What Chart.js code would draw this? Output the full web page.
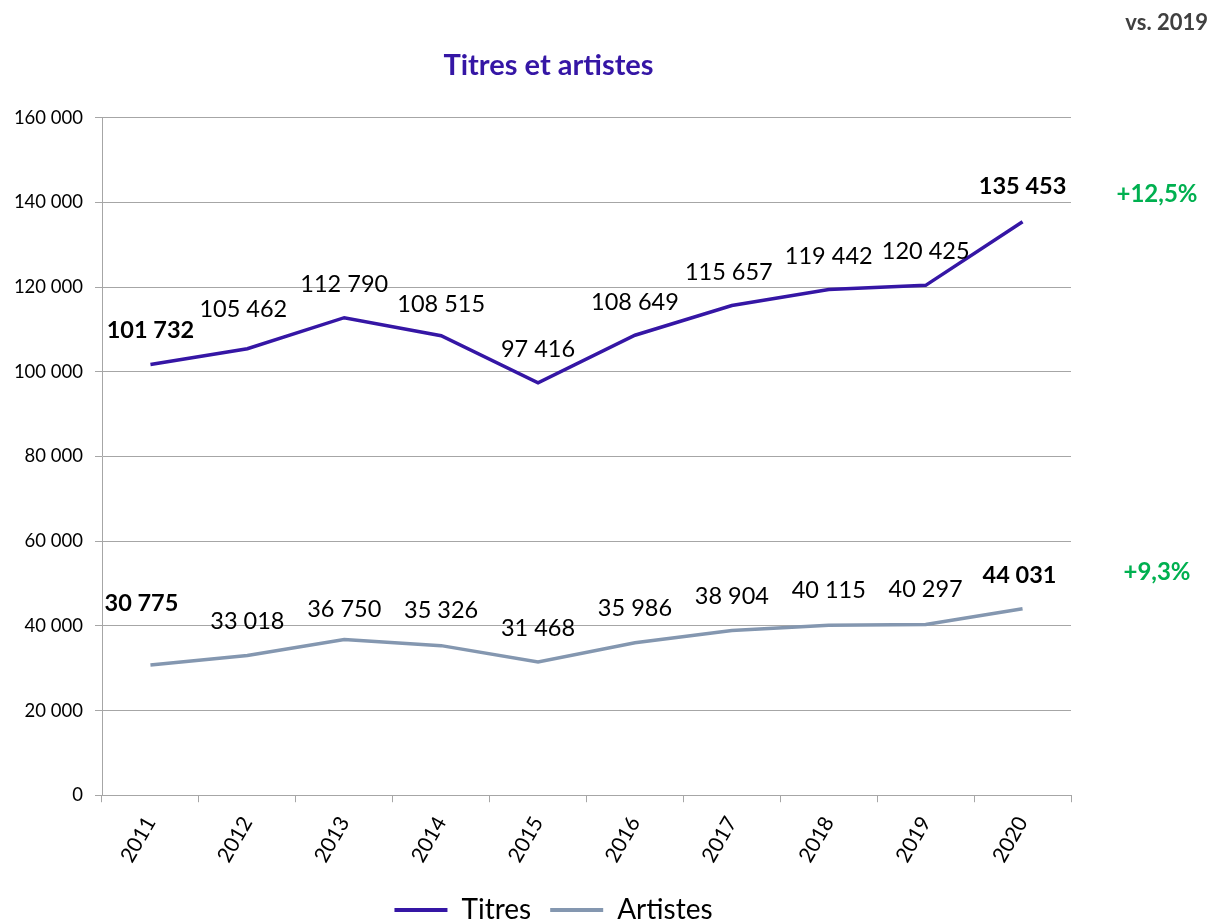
<!DOCTYPE html>
<html>
<head>
<meta charset="utf-8">
<script src="https://cdn.jsdelivr.net/npm/chart.js@4/dist/chart.umd.min.js"></script>
<style>
html,body{margin:0;padding:0;background:#fff;}
#wrap{position:relative;width:1210px;height:922px;}
</style>
</head>
<body>
<div id="wrap"><canvas id="c" width="1210" height="922"></canvas></div>
<script>
const years = ['2011','2012','2013','2014','2015','2016','2017','2018','2019','2020'];
const titres = [101732, 105462, 112790, 108515, 97416, 108649, 115657, 119442, 120425, 135453];
const artistes = [30775, 33018, 36750, 35326, 31468, 35986, 38904, 40115, 40297, 44031];
const seriesNames = ['Titres', 'Artistes'];
const changeLabels = ['+12,5%', '+9,3%'];
const compareLabel = 'vs. 2019';
const chartTitle = 'Titres et artistes';

const FONT = 'Lato, "Open Sans", sans-serif';
const fmt = v => String(v).replace(/\B(?=(\d{3})+(?!\d))/g, ' ');

const labelOffsets = [
  [[0,-34],[-4,-39],[0,-33],[0,-31],[0,-33],[0,-33],[-3,-33],[0,-33],[0,-34],[0,-35]],
  [[-9,-61],[0,-34],[0,-30],[0,-35],[0,-34],[0,-34],[0,-34],[0,-35],[0,-35],[-3,-33]]
];
const changeOffsets = [8, -4];

const extraText = {
  id: 'extraText',
  afterLayout(chart) {
    if (chart.legend) { chart.legend.left += 13; chart.legend.right += 13; }
    if (chart.titleBlock) { chart.titleBlock.left += 8; chart.titleBlock.right += 8; }
  },
  afterDatasetsDraw(chart) {
    const ctx = chart.ctx;
    ctx.save();
    ctx.textBaseline = 'middle';
    ctx.textAlign = 'center';
    chart.data.datasets.forEach((ds, di) => {
      const meta = chart.getDatasetMeta(di);
      meta.data.forEach((pt, i) => {
        const last = i === ds.data.length - 1;
        const bold = i === 0 || last;
        ctx.font = (bold ? 'bold ' : '') + '23.5px ' + FONT;
        ctx.fillStyle = '#000';
        const off = labelOffsets[di][i];
        ctx.fillText(fmt(ds.data[i]), pt.x + off[0], pt.y + off[1]);
        if (last) {
          ctx.font = 'bold 24px ' + FONT;
          ctx.fillStyle = '#00b050';
          ctx.fillText(changeLabels[di], 1157, pt.y + off[1] + changeOffsets[di]);
        }
      });
    });
    ctx.font = 'bold 22px ' + FONT;
    ctx.fillStyle = '#404040';
    ctx.textAlign = 'right';
    ctx.fillText(compareLabel, 1208, 23);
    ctx.restore();
  }
};

new Chart(document.getElementById('c'), {
  type: 'line',
  data: {
    labels: years,
    datasets: [
      { label: seriesNames[0], data: titres, borderColor: '#3516a5', backgroundColor: '#3516a5', borderWidth: 3.5, pointRadius: 0, tension: 0 },
      { label: seriesNames[1], data: artistes, borderColor: '#8497b0', backgroundColor: '#8497b0', borderWidth: 3.5, pointRadius: 0, tension: 0 }
    ]
  },
  options: {
    responsive: false,
    animation: false,
    devicePixelRatio: 1,
    layout: { padding: { left: 10, right: 139, top: 0, bottom: -12 } },
    plugins: {
      title: {
        display: true, text: chartTitle, color: '#3516a5',
        font: { family: FONT, size: 29, weight: 'bold' },
        padding: { top: 48, bottom: 35 }
      },
      legend: {
        position: 'bottom',
        labels: {
          color: '#000', font: { family: FONT, size: 28 },
          boxWidth: 53, boxHeight: 4, padding: 19,
          generateLabels(chart) {
            const items = Chart.defaults.plugins.legend.labels.generateLabels(chart);
            items.forEach(it => { it.lineWidth = 0; it.strokeStyle = it.fillStyle; });
            return items;
          }
        }
      },
      tooltip: { enabled: false }
    },
    scales: {
      x: {
        offset: true,
        grid: { offset: true, drawOnChartArea: false, drawTicks: true, tickLength: 7, color: '#a6a6a6' },
        border: { display: true, color: '#a6a6a6' },
        ticks: { color: '#000', font: { family: FONT, size: 21 }, minRotation: 60, maxRotation: 60, padding: 10 }
      },
      y: {
        min: 0, max: 160000,
        afterFit(s) { s.width = 92; },
        grid: { color: '#a6a6a6', tickLength: 7 },
        border: { display: true, color: '#a6a6a6' },
        ticks: { stepSize: 20000, color: '#000', font: { family: FONT, size: 18.5 }, padding: 12, callback: v => fmt(v) }
      }
    }
  },
  plugins: [extraText]
});
</script>
</body>
</html>
